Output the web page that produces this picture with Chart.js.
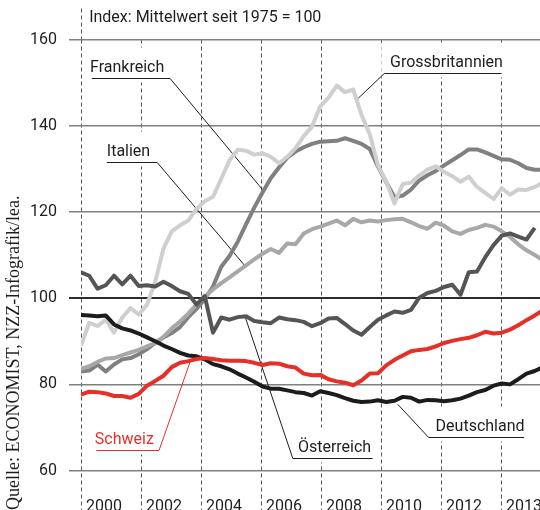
<!DOCTYPE html>
<html>
<head>
<meta charset="utf-8">
<script src="https://cdn.jsdelivr.net/npm/chart.js@4"></script>
<style>
  html, body { margin: 0; padding: 0; background: #fff; }
  canvas { display: block; }
</style>
</head>
<body>
<canvas id="chart" width="540" height="510"></canvas>
<script>
// Achsen
const yearTicks = [2000, 2002, 2004, 2006, 2008, 2010, 2012, 2014];
const yearLabels = ['2000', '2002', '2004', '2006', '2008', '2010', '2012', '2013'];
const valueTicks = [60, 80, 100, 120, 140, 160];
const firstYear = 2000;
const step = 0.275; // Abstand der Messpunkte in Jahren

// Index: Mittelwert seit 1975 = 100
const grossbritannien = [89, 94.3, 93.5, 95, 92, 95.5, 97.7, 96.2, 98.5, 103.8,
  111.5, 115.5, 116.9, 118, 120.7, 122.5, 123.5, 127.7, 132, 134.4,
  134.2, 133.3, 133.6, 132.8, 131.3, 132.8, 134.8, 137.6, 139.8, 144.5,
  146.5, 149.3, 147.8, 148.4, 142.5, 138, 130.8, 127, 122, 126.5,
  126.8, 128.5, 129.8, 130.6, 129.3, 128.3, 127, 128.2, 125.8, 124.4,
  123, 125.5, 124, 125.2, 125.1, 125.8, 126.8];
const frankreich = [83, 83.2, 84.6, 83, 84.6, 85.8, 86.1, 87, 88.2, 89.6,
  90.9, 91.9, 93.3, 95.6, 97.5, 99.8, 102.7, 107.3, 109.8, 113.1,
  117.1, 121, 124.5, 127.8, 130.3, 132.6, 134, 135, 135.8, 136.3,
  136.4, 136.5, 137.1, 136.5, 135.8, 134.6, 130.5, 126.9, 123.4, 123.8,
  125.2, 127.3, 128.5, 129.5, 130.8, 132, 133.2, 134.5, 134.5, 133.8,
  133, 132.2, 132.1, 131.3, 130.2, 129.8, 129.8];
const italien = [83.6, 84.2, 85.2, 86, 86.1, 86.8, 87.4, 88, 88.8, 89.6,
  91, 93, 94.6, 96.4, 98.5, 100.3, 102, 103.5, 104.8, 106.2,
  107.6, 109, 110.3, 111.4, 110.5, 112.7, 112.5, 115, 116, 116.6,
  117.3, 118, 116.9, 118.4, 117.6, 118, 117.8, 118.1, 118.3, 118.4,
  117.6, 116.7, 116.1, 117.5, 116.8, 115.5, 114.9, 115.8, 116.3, 117,
  116.6, 115.5, 114.2, 112.5, 111.1, 110, 108.8];
const oesterreich = [106, 105.2, 102.2, 103, 105.2, 103.2, 105.2, 102.8, 103, 102.7,
  103.8, 102.8, 101.6, 101, 98.5, 100.5, 92, 95.5, 95, 95.6,
  95.8, 94.7, 94.4, 94.2, 95.5, 95.1, 94.9, 94.5, 93.5, 94.2,
  95.3, 95.4, 94, 92.5, 91.5, 93.3, 95, 96, 96.9, 96.6,
  97.3, 100.1, 101.2, 101.7, 102.6, 103.1, 100.8, 106, 106.2, 109.5,
  112.3, 114.5, 115, 114.3, 113.6, 116.3];
const deutschland = [96.1, 96, 95.8, 96, 93.9, 93, 92.5, 91.8, 90.9, 90,
  89, 88.2, 87.3, 86.7, 86.5, 85.8, 84.7, 84.2, 83.5, 82.5,
  81.6, 80.6, 79.5, 79, 79, 78.6, 78.2, 78, 77.4, 78.4,
  78, 77.5, 76.8, 76.2, 75.9, 76, 76.3, 75.9, 76.2, 77.1,
  76.9, 76, 76.4, 76.3, 76.1, 76.3, 76.7, 77.4, 78.2, 78.7,
  79.7, 80.2, 80, 81.2, 82.5, 83.1, 84];
const schweiz = [77.6, 78.3, 78.2, 77.9, 77.3, 77.3, 76.9, 77.8, 79.7, 80.8,
  82, 84, 85, 85.4, 85.9, 86.1, 85.9, 85.6, 85.5, 85.5,
  85.4, 85, 84.5, 84.9, 84.8, 84.2, 83.9, 82.5, 82.1, 82.2,
  81.2, 80.7, 80.4, 79.8, 80.9, 82.5, 82.6, 84.4, 85.7, 86.7,
  87.7, 88, 88.2, 88.8, 89.6, 90.1, 90.5, 90.8, 91.4, 92.2,
  91.8, 92, 92.7, 93.7, 94.9, 96, 97.2];

const RED = '#e63027';
const FONT = 'Roboto';

// Beschriftungen mit Hinweislinien (in Achsenwerten)
const notes = [
  { text: 'Frankreich', color: '#1e1e1e', tx: 2000.30, x1: 2000.36, x2: 2002.97, y: 151.0, to: [2006.06, 125.1], from: 'right' },
  { text: 'Italien', color: '#1e1e1e', tx: 2000.86, x1: 2000.86, x2: 2002.54, y: 131.65, to: [2005.47, 107.46], from: 'right' },
  { text: 'Grossbritannien', color: '#1e1e1e', tx: 2010.30, x1: 2010.11, x2: 2014.02, y: 152.16, to: [2009.24, 146.36], from: 'left' },
  { text: 'Deutschland', color: '#1e1e1e', tx: 2011.82, x1: 2011.59, x2: 2014.77, y: 67.79, to: [2010.56, 75.36], from: 'left' },
  { text: 'Österreich', color: '#1e1e1e', tx: 2007.23, x1: 2007.06, x2: 2009.72, y: 62.97, to: [2005.47, 95.7], from: 'left' },
  { text: 'Schweiz', color: RED, tx: 2000.46, x1: 2000.51, x2: 2002.60, y: 64.73, to: [2003.67, 85.89], from: 'right' }
];

function series(values) {
  return values.map((v, i) => ({ x: firstYear + i * step, y: v }));
}

const notesPlugin = {
  id: 'notes',
  beforeDatasetsDraw(chart) {
    const { ctx } = chart;
    const x = chart.scales.x, y = chart.scales.y;
    ctx.save();
    ctx.font = '16px ' + FONT;
    ctx.textBaseline = 'alphabetic';
    ctx.textAlign = 'left';
    notes.forEach(n => {
      const px1 = x.getPixelForValue(n.x1);
      const px2 = x.getPixelForValue(n.x2);
      const py = Math.round(y.getPixelForValue(n.y)) + 0.5;
      const tx = x.getPixelForValue(n.tx);
      const w = ctx.measureText(n.text).width;
      const left = Math.min(px1, tx) - 3;
      const right = Math.max(px2, tx + w) + 3;
      ctx.fillStyle = '#fff';
      ctx.fillRect(left, py - 31, right - left, 35);
      ctx.fillStyle = n.color;
      ctx.fillText(n.text, tx, py - 7);
      ctx.strokeStyle = n.color;
      ctx.lineWidth = 1;
      ctx.beginPath();
      ctx.moveTo(px1, py);
      ctx.lineTo(px2, py);
      const sx = n.from === 'left' ? px1 : px2;
      ctx.moveTo(sx, py);
      ctx.lineTo(x.getPixelForValue(n.to[0]), y.getPixelForValue(n.to[1]));
      ctx.stroke();
    });
    ctx.restore();
  }
};

const lineStyle = { borderWidth: 4, pointRadius: 0, tension: 0, fill: false, borderJoinStyle: 'round' };

new Chart(document.getElementById('chart'), {
  type: 'line',
  data: {
    datasets: [
      { label: 'Schweiz', data: series(schweiz), borderColor: RED, ...lineStyle },
      { label: 'Deutschland', data: series(deutschland), borderColor: '#1c1c1c', ...lineStyle },
      { label: 'Österreich', data: series(oesterreich), borderColor: '#555555', ...lineStyle },
      { label: 'Grossbritannien', data: series(grossbritannien), borderColor: '#cfcfcf', ...lineStyle },
      { label: 'Italien', data: series(italien), borderColor: '#a8a8a8', ...lineStyle },
      { label: 'Frankreich', data: series(frankreich), borderColor: '#808080', ...lineStyle }
    ]
  },
  options: {
    responsive: false,
    devicePixelRatio: 1,
    animation: false,
    layout: { padding: { top: 8.5, left: 0, right: 0, bottom: 0 } },
    plugins: {
      legend: { display: false },
      tooltip: { enabled: false }
    },
    scales: {
      x: {
        type: 'linear',
        position: 'bottom',
        min: 2000,
        max: 2015.3,
        afterBuildTicks: s => { s.ticks = yearTicks.map(v => ({ value: v })); },
        afterFit: s => { s.height = 0; s.paddingLeft = 0; s.paddingRight = 0; },
        grid: { color: '#555', lineWidth: 1, drawTicks: false },
        border: { display: false, dash: [4, 3] },
        ticks: {
          mirror: true,
          align: 'start',
          labelOffset: 5,
          padding: -7,
          maxRotation: 0,
          minRotation: 0,
          autoSkip: false,
          color: '#1e1e1e',
          font: { family: FONT, size: 16 },
          callback: (v, i) => yearLabels[i]
        }
      },
      x2: {
        type: 'linear',
        position: 'top',
        min: 2000,
        max: 2015.3,
        afterBuildTicks: s => { s.ticks = [{ value: 2000 }]; },
        afterFit: s => { s.height = 31; s.paddingLeft = 0; s.paddingRight = 0; },
        grid: { drawOnChartArea: false, tickLength: 31, tickColor: '#555', tickWidth: 1, tickBorderDash: [4, 3] },
        border: { display: false },
        ticks: { display: false },
        title: {
          display: true,
          text: '\u2002Index: Mittelwert seit 1975 = 100',
          align: 'start',
          color: '#1e1e1e',
          font: { family: FONT, size: 16 },
          padding: { top: 0, bottom: 0 }
        }
      },
      y: {
        type: 'linear',
        min: 50.86,
        max: 160,
        afterBuildTicks: s => { s.ticks = valueTicks.map(v => ({ value: v })); },
        afterFit: s => { s.width = 81; s.paddingTop = 0; s.paddingBottom = 0; },
        grid: {
          color: c => (c.tick && c.tick.value === 100 ? '#2b2b2b' : '#808080'),
          lineWidth: c => (c.tick && c.tick.value === 100 ? 2 : 1.5),
          tickLength: 12
        },
        border: { display: false },
        ticks: { padding: 12, color: '#1e1e1e', font: { family: FONT, size: 16 } },
        title: {
          display: true,
          text: 'Quelle: ECONOMIST, NZZ-Infografik/lea.',
          align: 'start',
          color: '#1e1e1e',
          font: { family: "'Liberation Serif', serif", size: 18 },
          padding: { top: 3, bottom: 0 }
        }
      }
    }
  },
  plugins: [notesPlugin]
});
</script>
</body>
</html>
